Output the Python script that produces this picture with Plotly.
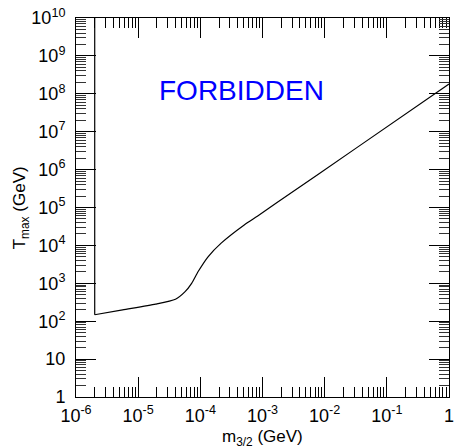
import plotly.graph_objects as go

# ---- data ----
# vertical boundary at low gravitino mass
wall_m = [2.0e-6, 2.0e-6]
wall_T = [1e10, 148]

# T_max curve
curve_logm = [-5.70, -5.25, -4.72, -4.40, -4.245, -4.14, -4.035, -3.876,
              -3.665, -3.294, -3.083, -2.766, -1.50, 0.0]
curve_logT = [2.17, 2.30, 2.45, 2.58, 2.78, 3.00, 3.31, 3.70,
              4.06, 4.54, 4.77, 5.13, 6.56, 8.26]
curve_m = [10 ** v for v in curve_logm]
curve_T = [10 ** v for v in curve_logT]

x_tickvals = [1e-6, 1e-5, 1e-4, 1e-3, 1e-2, 1e-1, 1]
x_ticktext = ["10<sup>-6</sup>", "10<sup>-5</sup>", "10<sup>-4</sup>",
              "10<sup>-3</sup>", "10<sup>-2</sup>", "10<sup>-1</sup>", "1"]
y_tickvals = [10 ** k for k in range(0, 11)]
y_ticktext = ["1", "10"] + ["10<sup>%d</sup>" % k for k in range(2, 11)]

label_text = "FORBIDDEN"

# minor tick positions
x_minor = [m * 10 ** k for k in range(-6, 0) for m in range(2, 10)]
y_minor = [m * 10 ** k for k in range(0, 10) for m in range(2, 10)]

FONT = "Liberation Sans, Arial, Helvetica, sans-serif"

fig = go.Figure()
fig.add_trace(go.Scatter(x=wall_m, y=wall_T, mode="lines",
                         line=dict(color="black", width=1.2),
                         showlegend=False, hoverinfo="skip"))
fig.add_trace(go.Scatter(x=curve_m, y=curve_T, mode="lines",
                         line=dict(color="black", width=1.2, shape="spline", smoothing=0.6),
                         showlegend=False))

axis_common = dict(
    type="log", showgrid=False, zeroline=False,
    showline=True, linecolor="black", linewidth=1, mirror="allticks",
    ticks="inside", ticklen=20, tickwidth=1, tickcolor="black",
    tickmode="array", ticklabeloverflow="allow",
    tickfont=dict(family=FONT, size=18, color="black"),
)

fig.update_xaxes(**axis_common, range=[-6, 0], tickvals=x_tickvals, ticktext=x_ticktext,
                 ticklabelstandoff=2,
                 minor=dict(tickmode="array", tickvals=x_minor, ticks="inside",
                            ticklen=10, tickwidth=1, tickcolor="black"))
fig.update_yaxes(**axis_common, range=[0, 10], tickvals=y_tickvals, ticktext=y_ticktext,
                 ticklabelstandoff=6,
                 minor=dict(tickmode="array", tickvals=y_minor, ticks="inside",
                            ticklen=10, tickwidth=1, tickcolor="#333333"))

fig.add_annotation(text=label_text, xref="paper", yref="paper", x=0.445, y=0.855,
                   showarrow=False, font=dict(family=FONT, size=28, color="#0000ff"))
fig.add_annotation(text="m<sub>3/2</sub> (GeV)", xref="paper", yref="paper",
                   x=0.5, y=-0.107, yanchor="middle", showarrow=False,
                   font=dict(family=FONT, size=17, color="black"))
fig.add_annotation(text="T<sub>max</sub> (GeV)", xref="paper", yref="paper",
                   x=-0.148, y=0.5, xanchor="center", yanchor="middle", textangle=-90,
                   showarrow=False, font=dict(family=FONT, size=17, color="black"))

fig.update_layout(
    width=457, height=448,
    margin=dict(l=76, r=3, t=18, b=51, pad=0),
    plot_bgcolor="white", paper_bgcolor="white",
    font=dict(family=FONT, color="black"),
)

fig.write_html("out.html")
